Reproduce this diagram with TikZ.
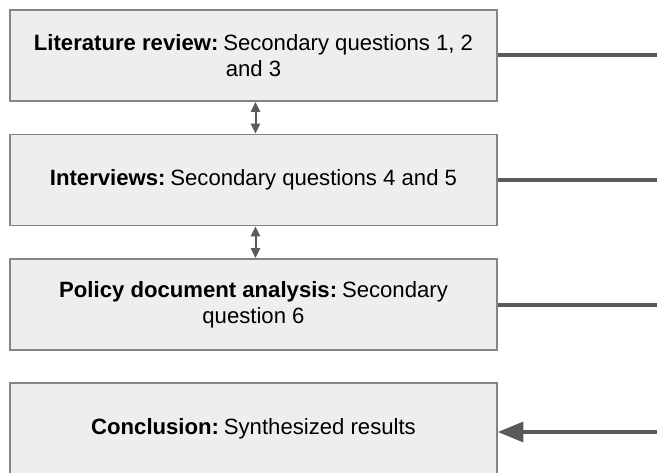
\documentclass[tikz,border=0pt]{standalone}
\usepackage{fontspec}
\setmainfont{Liberation Sans}
\usetikzlibrary{arrows.meta}
\definecolor{boxfill}{HTML}{EEEEEE}
\definecolor{boxline}{HTML}{858585}
\definecolor{linkgray}{HTML}{5A5A5A}
% bold lead-in followed by a narrow gap
\newcommand{\leadin}[1]{\textbf{#1}\hspace{0.22em}}
\begin{document}
\begin{tikzpicture}[x=0.75pt,y=-0.75pt,
  stagebox/.style={draw=boxline,fill=boxfill,line width=1.4pt,
    minimum width=365.25pt,minimum height=68.25pt,inner sep=0pt,
    align=center,font=\fontsize{16.6}{19.5}\selectfont},
  link/.style={draw=linkgray,line width=2.4pt},
  pairlink/.style={draw=linkgray,line width=1.5pt,
    {Triangle[length=7.5pt,width=7pt]}-{Triangle[length=7.5pt,width=7pt]}},
  inlink/.style={draw=linkgray,line width=2.4pt,
    -{Triangle[length=19pt,width=15pt]}}]
  \useasboundingbox (0,0) rectangle (657,473);
  \clip (0,0) rectangle (657,473);

  % research stages
  \node[stagebox] (lit) at (253.5,55.5)
    {\leadin{Literature review:}Secondary questions 1, 2\\and 3};
  \node[stagebox] (int) at (253.5,180)
    {\leadin{Interviews:}Secondary questions 4 and 5};
  \node[stagebox] (pol) at (253.5,304.5)
    {\leadin{Policy document analysis:}Secondary\\question 6};
  \node[stagebox] (con) at (253.5,428.5)
    {\leadin{Conclusion:}Synthesized results};

  % links between stages
  \draw[pairlink] ([xshift=1.5pt]lit.south) -- ([xshift=1.5pt]int.north);
  \draw[pairlink] ([xshift=1.5pt]int.south) -- ([xshift=1.5pt]pol.north);

  % outgoing and incoming lines at the right
  \coordinate (litR) at (660,55);
  \coordinate (intR) at (660,180);
  \coordinate (polR) at (660,305);
  \coordinate (conR) at (660,432);
  \draw[link] (lit.east |- litR) -- (litR);
  \draw[link] (int.east |- intR) -- (intR);
  \draw[link] (pol.east |- polR) -- (polR);
  \draw[inlink] (conR) -- (con.east |- conR);
\end{tikzpicture}
\end{document}
